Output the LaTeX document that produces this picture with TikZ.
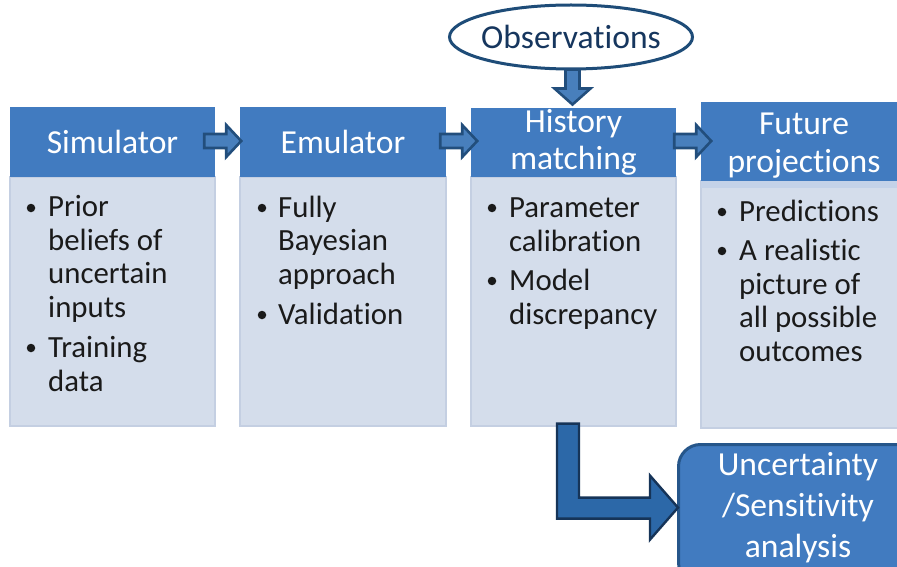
\documentclass[tikz,border=0pt]{standalone}
\usepackage{fontspec}
\setmainfont{Carlito}[Ligatures=NoCommon]
\usetikzlibrary{shapes.geometric}
\definecolor{hdrblue}{RGB}{65,123,192}
\definecolor{bodyfill}{RGB}{212,221,235}
\definecolor{bodyline}{RGB}{196,207,226}
\definecolor{txt}{RGB}{26,26,26}
\definecolor{arrfill}{RGB}{72,127,188}
\definecolor{arrline}{RGB}{34,78,124}
\definecolor{larrfill}{RGB}{44,104,168}
\definecolor{larrline}{RGB}{22,52,88}
\definecolor{obsline}{RGB}{30,76,120}
\definecolor{obstext}{RGB}{22,54,94}
\definecolor{uncline}{RGB}{38,86,138}
\definecolor{stripfill}{RGB}{196,210,232}
\begin{document}
\begin{tikzpicture}[x=1pt,y=-1pt,
  hdr/.style={fill=hdrblue, draw=none, inner sep=0pt, text=white, align=center,
    font=\fontsize{33.6}{37.5}\selectfont},
  bodybox/.style={fill=bodyfill, draw=bodyline, line width=1.2pt, inner sep=0pt},
  htext/.style={text=white, inner sep=0pt, align=center, anchor=base,
    font=\fontsize{33.6}{37.5}\selectfont},
  btext/.style={text=txt, inner sep=0pt, align=left, anchor=base west,
    font=\fontsize{30.8}{33.4}\selectfont},
  bul/.style={circle, fill=txt, inner sep=0pt, minimum size=8.5pt},
  smallarrow/.style={fill=arrfill, draw=arrline, line width=2.6pt, line join=miter},
  bigarrow/.style={fill=larrfill, draw=larrline, line width=2.4pt, line join=miter},
  rarrow/.pic={\draw[smallarrow] (0,-7) -- (22,-7) -- (22,-16) -- (37,0) -- (22,16) -- (22,7) -- (0,7) -- cycle;},
  darrow/.pic={\draw[smallarrow] (-7,0) -- (7,0) -- (7,19) -- (18,19) -- (0,35) -- (-18,19) -- (-7,19) -- cycle;}
]
\useasboundingbox (0,0) rectangle (897,567);
\clip (0,0) rectangle (897,567);

% bodies
\node[bodybox, minimum width=205pt, minimum height=249pt] (simB) at (112.5,301.5) {};
\node[bodybox, minimum width=206pt, minimum height=249pt] (emuB) at (343,301.5) {};
\node[bodybox, minimum width=205pt, minimum height=249pt] (hisB) at (573.5,301.5) {};
\node[bodybox, minimum width=205pt, minimum height=247pt] (futB) at (803.5,304.5) {};
\node[fill=stripfill, inner sep=0pt, minimum width=205pt, minimum height=7pt] (futS) at (803.5,184.5) {};

% headers
\node[hdr, minimum width=205pt, minimum height=70pt] (simH) at (112.5,142) {Simulator};
\node[hdr, minimum width=206pt, minimum height=70pt] (emuH) at (343,142) {Emulator};
\node[hdr, minimum width=205pt, minimum height=69pt] (hisH) at (573.5,142.5) {History\\matching};
\node[hdr, minimum width=205pt, minimum height=79pt] (futH) at (803.5,141.5) {};
\node[htext] (futT) at (804,172) {Future\\projections};

% observations
\node[ellipse, draw=obsline, line width=3pt, fill=white, inner sep=0pt,
  minimum width=243pt, minimum height=64pt, text=obstext,
  font=\fontsize{33.6}{37.5}\selectfont] (obs) at (571,37) {\makebox[0pt]{Observations}};

% arrows between stages
\pic at ([shift={(-11,-1)}]simH.east) {rarrow};
\pic at ([shift={(-6,-1)}]emuH.east) {rarrow};
\pic at ([shift={(-2,-1.5)}]hisH.east) {rarrow};
\pic at ([shift={(1.5,-1)}]obs.south) {darrow};

% bullets and texts (anchored at the baseline of the last line)
\node[bul] (sb1) at (31,208) {};
\node[btext] (st1) at (48,317) {Prior\\beliefs of\\uncertain\\inputs};
\node[bul] (sb2) at (31,348) {};
\node[btext] (st2) at (48,391) {Training\\data};

\node[bul] (eb1) at (262,208) {};
\node[btext] (et1) at (278,284) {Fully\\Bayesian\\approach};
\node[bul] (eb2) at (262,315) {};
\node[btext] (et2) at (278,324) {Validation};

\node[bul] (hb1) at (492,208) {};
\node[btext] (ht1) at (509,251) {Parameter\\calibration};
\node[bul] (hb2) at (492,281) {};
\node[btext] (ht2) at (509,324) {Model\\discrepancy};

\node[bul] (fb1) at (722,212) {};
\node[btext] (ft1) at (739,221) {Predictions};
\node[bul] (fb2) at (722,251) {};
\node[btext] (ft2) at (739,361) {A realistic\\picture of\\all possible\\outcomes};

% uncertainty box
\node[draw=uncline, line width=3pt, fill=hdrblue, rounded corners=22pt, inner sep=0pt,
  minimum width=245pt, minimum height=140pt, anchor=north west] (unc) at (677,443) {};
\node[htext, font=\fontsize{33.6}{41}\selectfont] (uncT) at (798,557) {Uncertainty\\/Sensitivity\\analysis};

% L-shaped arrow
\draw[bigarrow, shift={(hisB.south)}] (-16.5,-3) -- (5.5,-3) -- (5.5,71) -- (76.5,71) -- (76.5,49)
  -- (104.5,81) -- (76.5,113) -- (76.5,92) -- (-16.5,92) -- cycle;
\end{tikzpicture}
\end{document}
